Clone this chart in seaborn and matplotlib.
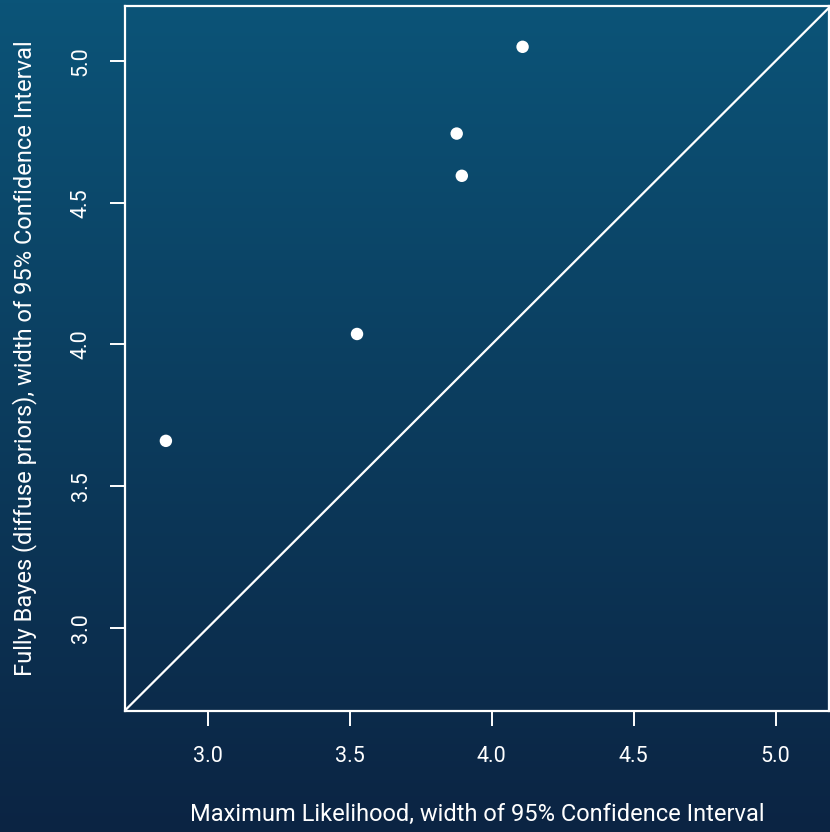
import numpy as np
import pandas as pd
import matplotlib
matplotlib.use("Agg")
import matplotlib.pyplot as plt
import seaborn as sns
from matplotlib.colors import LinearSegmentedColormap

ml_width = [2.853, 3.526, 3.877, 3.895, 4.109]
bayes_width = [3.660, 4.037, 4.744, 4.595, 5.050]
x_ticks = [3.0, 3.5, 4.0, 4.5, 5.0]
y_ticks = [3.0, 3.5, 4.0, 4.5, 5.0]
x_label = "Maximum Likelihood, width of 95% Confidence Interval"
y_label = "Fully Bayes (diffuse priors), width of 95% Confidence Interval"

sns.set_style("white")
plt.rcParams['font.family'] = ['Roboto', 'DejaVu Sans']

df = pd.DataFrame({"ml": ml_width, "bayes": bayes_width})

fig = plt.figure(figsize=(8.3, 8.32), dpi=100)
# background gradient
bg = fig.add_axes([0, 0, 1, 1], zorder=-10)
cmap = LinearSegmentedColormap.from_list("bg", ["#0b2443", "#0b5478"])
grad = np.linspace(0, 1, 256).reshape(-1, 1)
bg.imshow(grad, aspect="auto", cmap=cmap, origin="lower", extent=[0, 1, 0, 1])
bg.set_axis_off()

ax = fig.add_axes([125/830, 1-711/832, 704/830, 705/832])
ax.set_facecolor("none")
ax.axline((3, 3), slope=1, color="white", lw=1.6, zorder=1)
sns.scatterplot(data=df, x="ml", y="bayes", ax=ax, color="white", s=80,
                edgecolor="none", zorder=3)
ax.set_xlim(2.709, 5.188)
ax.set_ylim(2.707, 5.194)
ax.set_xticks(x_ticks)
ax.set_yticks(y_ticks)
ax.set_xticklabels([f"{v:.1f}" for v in x_ticks])
ax.set_yticklabels([f"{v:.1f}" for v in y_ticks], rotation=90, va="center")
for s in ax.spines.values():
    s.set_color("white")
    s.set_linewidth(1.6)
    s.set_visible(True)
ax.tick_params(axis="both", colors="white", direction="out", length=11,
               width=1.4, labelsize=15.5, pad=14, left=True, bottom=True)
ax.tick_params(axis="y", pad=13)
ax.set_xlabel(x_label, color="white", fontsize=17, labelpad=26)
ax.set_ylabel(y_label, color="white", fontsize=17, labelpad=24)

fig.savefig("out.png", dpi=100)
